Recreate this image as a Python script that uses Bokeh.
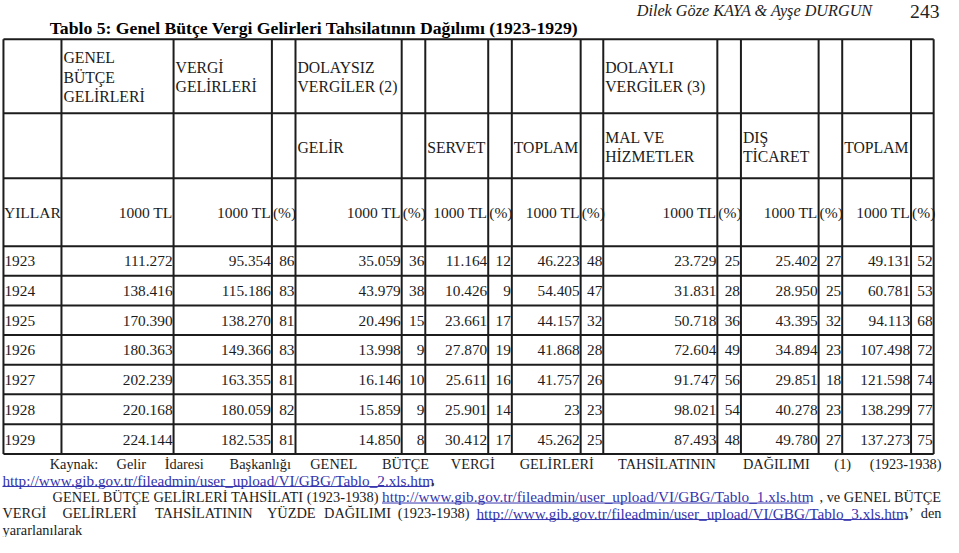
from bokeh.plotting import figure
from bokeh.models import ColumnDataSource, Range1d
from bokeh.embed import file_html
from bokeh.resources import INLINE
from bokeh.core.properties import value

# ---------------- data ----------------
YEARS = ["1923", "1924", "1925", "1926", "1927", "1928", "1929"]
GENEL_BUTCE = ["111.272", "138.416", "170.390", "180.363", "202.239", "220.168", "224.144"]
VERGI = ["95.354", "115.186", "138.270", "149.366", "163.355", "180.059", "182.535"]
VERGI_PCT = ["86", "83", "81", "83", "81", "82", "81"]
GELIR = ["35.059", "43.979", "20.496", "13.998", "16.146", "15.859", "14.850"]
GELIR_PCT = ["36", "38", "15", "9", "10", "9", "8"]
SERVET = ["11.164", "10.426", "23.661", "27.870", "25.611", "25.901", "30.412"]
SERVET_PCT = ["12", "9", "17", "19", "16", "14", "17"]
DOLAYSIZ_TOPLAM = ["46.223", "54.405", "44.157", "41.868", "41.757", "23", "45.262"]
DOLAYSIZ_PCT = ["48", "47", "32", "28", "26", "23", "25"]
MAL_HIZMET = ["23.729", "31.831", "50.718", "72.604", "91.747", "98.021", "87.493"]
MAL_HIZMET_PCT = ["25", "28", "36", "49", "56", "54", "48"]
DIS_TICARET = ["25.402", "28.950", "43.395", "34.894", "29.851", "40.278", "49.780"]
DIS_TICARET_PCT = ["27", "25", "32", "23", "18", "23", "27"]
DOLAYLI_TOPLAM = ["49.131", "60.781", "94.113", "107.498", "121.598", "138.299", "137.273"]
DOLAYLI_PCT = ["52", "53", "68", "72", "74", "77", "75"]

HEADER_ROW1 = {1: ["GENEL", "BÜTÇE", "GELİRLERİ"], 2: ["VERGİ", "GELİRLERİ"],
               4: ["DOLAYSIZ", "VERGİLER (2)"], 10: ["DOLAYLI", "VERGİLER (3)"]}
HEADER_ROW2 = {4: ["GELİR"], 6: ["SERVET"], 8: ["TOPLAM"], 10: ["MAL VE", "HİZMETLER"],
               12: ["DIŞ", "TİCARET"], 14: ["TOPLAM"]}
UNIT_LABELS = ["YILLAR", "1000 TL", "1000 TL", "(%)", "1000 TL", "(%)", "1000 TL", "(%)",
               "1000 TL", "(%)", "1000 TL", "(%)", "1000 TL", "(%)", "1000 TL", "(%)"]

TITLE = "Tablo 5: Genel Bütçe Vergi Gelirleri Tahsilatının Dağılımı (1923-1929)"
AUTHORS = "Dilek Göze KAYA & Ayşe DURGUN"
PAGE = "243"
LINK1 = "http://www.gib.gov.tr/fileadmin/user_upload/VI/GBG/Tablo_2.xls.htm"
LINK2 = "http://www.gib.gov.tr/fileadmin/user_upload/VI/GBG/Tablo_1.xls.htm"
LINK3 = "http://www.gib.gov.tr/fileadmin/user_upload/VI/GBG/Tablo_3.xls.htm"

# ---------------- layout ----------------
W, H = 943, 537
S = W / 959.0
FONT = value("Liberation Serif")
INK = "#1c1c1c"
LINK_COLOR = "#3535ad"

COL_X = [3, 62, 176, 276, 300, 408, 432, 496, 520, 590, 613, 729, 753, 832, 856, 926, 949]
ROW_Y = [40, 116, 183, 253, 283.5, 314, 344.5, 375, 405.5, 436.5, 467]


def px(v):
    return f"{v * S:.2f}px"


p = figure(width=W, height=H, x_range=Range1d(0, 959), y_range=Range1d(553, 0),
           output_backend="svg", toolbar_location=None, min_border=0,
           x_axis_location=None, y_axis_location=None,
           background_fill_color="white", border_fill_color="white")
p.grid.visible = False
p.outline_line_color = None


def add_text(xs, ys, texts, align="left", size=16.0, style="normal", color=INK):
    src = ColumnDataSource(dict(x=list(xs), y=list(ys), t=list(texts)))
    p.text(x="x", y="y", text="t", source=src, text_align=align, text_baseline="middle",
           text_font=FONT, text_font_size=px(size), text_font_style=style, text_color=color)


# grid lines
hx0 = [COL_X[0]] * len(ROW_Y)
hx1 = [COL_X[-1]] * len(ROW_Y)
p.segment(x0=hx0, y0=ROW_Y, x1=hx1, y1=ROW_Y, line_color=INK, line_width=2)
p.segment(x0=COL_X, y0=[ROW_Y[0]] * len(COL_X), x1=COL_X, y1=[ROW_Y[-1]] * len(COL_X),
          line_color=INK, line_width=2)

# page header
add_text([50], [28], [TITLE], size=18.0, style="bold", color="#000000")
add_text([647], [11], [AUTHORS], size=16.5, style="italic", color="#222222")
add_text([955], [11], [PAGE], align="right", size=20, color="#222222")

# header row 1 / row 2 (multi-line, left aligned)
LINE_STEP = 20
for row_idx, header, off in ((0, HEADER_ROW1, 1.0), (1, HEADER_ROW2, 1.5)):
    cy = (ROW_Y[row_idx] + ROW_Y[row_idx + 1]) / 2 + off
    xs, ys, ts = [], [], []
    for col, lines in header.items():
        n = len(lines)
        for i, ln in enumerate(lines):
            xs.append(COL_X[col] + 2)
            ys.append(cy + (i - (n - 1) / 2) * LINE_STEP)
            ts.append(ln)
    add_text(xs, ys, ts, size=16)

# unit row
cy3 = (ROW_Y[2] + ROW_Y[3]) / 2
ux_l, uy_l, ut_l, ux_r, uy_r, ut_r = [], [], [], [], [], []
for j, lab in enumerate(UNIT_LABELS):
    if j == 0:
        ux_l.append(COL_X[0] + 0.5); uy_l.append(cy3); ut_l.append(lab)
    elif lab == "(%)":
        ux_l.append(COL_X[j] + 1); uy_l.append(cy3); ut_l.append(lab)
    else:
        ux_r.append(COL_X[j + 1] - 1); uy_r.append(cy3); ut_r.append(lab)
add_text(ux_l, uy_l, ut_l, size=15.8)
add_text(ux_r, uy_r, ut_r, align="right", size=15.8)

# data rows
DATA_COLUMNS = [GENEL_BUTCE, VERGI, VERGI_PCT, GELIR, GELIR_PCT, SERVET, SERVET_PCT,
                DOLAYSIZ_TOPLAM, DOLAYSIZ_PCT, MAL_HIZMET, MAL_HIZMET_PCT,
                DIS_TICARET, DIS_TICARET_PCT, DOLAYLI_TOPLAM, DOLAYLI_PCT]
row_cy = [(ROW_Y[k] + ROW_Y[k + 1]) / 2 + 0.5 for k in range(3, 3 + len(YEARS))]
add_text([COL_X[0] + 1] * len(YEARS), row_cy, YEARS, size=15.6)
dx, dy, dt = [], [], []
for j, col in enumerate(DATA_COLUMNS, start=1):
    for i, v in enumerate(col):
        dx.append(COL_X[j + 1] - 1)
        dy.append(row_cy[i])
        dt.append(v)
add_text(dx, dy, dt, align="right", size=15.6)

# ---------------- footer ----------------
FOOT_Y = [477, 494, 511, 528, 545]
FS = 14.6
LFS = 15.5
LINK_W = 434

line1 = [("Kaynak:", 50), ("Gelir", 118), ("İdaresi", 167), ("Başkanlığı", 233),
         ("GENEL", 315), ("BÜTÇE", 388), ("VERGİ", 458), ("GELİRLERİ", 528),
         ("TAHSİLATININ", 628), ("DAĞILIMI", 755), ("(1)", 848)]
add_text([x for _, x in line1], [FOOT_Y[0]] * len(line1), [t for t, _ in line1], size=FS)
add_text([957], [FOOT_Y[0]], ["(1923-1938)"], align="right", size=FS)

# line 2
L1X = 2
add_text([L1X], [FOOT_Y[1]], [LINK1], size=LFS, color=LINK_COLOR)
add_text([L1X + LINK_W + 2], [FOOT_Y[1]], [","], size=FS)

# line 3
L2X = 388
add_text([53], [FOOT_Y[2]], ["GENEL BÜTÇE GELİRLERİ TAHSİLATI (1923-1938)"], size=FS)
add_text([L2X], [FOOT_Y[2]], [LINK2], size=LFS, color=LINK_COLOR)
add_text([957], [FOOT_Y[2]], [", ve GENEL BÜTÇE"], align="right", size=FS)

# line 4
L3X = 484
line4 = [("VERGİ", 2), ("GELİRLERİ", 63), ("TAHSİLATININ", 157), ("YÜZDE", 271),
         ("DAĞILIMI", 329)]
add_text([x for _, x in line4], [FOOT_Y[3]] * len(line4), [t for t, _ in line4], size=FS)
add_text([477], [FOOT_Y[3]], ["(1923-1938)"], align="right", size=FS)
add_text([L3X], [FOOT_Y[3]], [LINK3], size=LFS, color=LINK_COLOR)
add_text([L3X + LINK_W + 2], [FOOT_Y[3]], [",’"], size=FS)
add_text([957], [FOOT_Y[3]], ["den"], align="right", size=FS)

# line 5
add_text([2], [FOOT_Y[4]], ["yararlanılarak"], size=FS)

# link underlines
ul_x0 = [L1X, L2X, L3X]
ul_x1 = [L1X + LINK_W, L2X + LINK_W, L3X + LINK_W]
ul_y = [FOOT_Y[1] + 6.5, FOOT_Y[2] + 6.5, FOOT_Y[3] + 6.5]
p.segment(x0=ul_x0, y0=ul_y, x1=ul_x1, y1=ul_y, line_color=LINK_COLOR, line_width=1)

open("out.html", "w").write(file_html(p, INLINE))
